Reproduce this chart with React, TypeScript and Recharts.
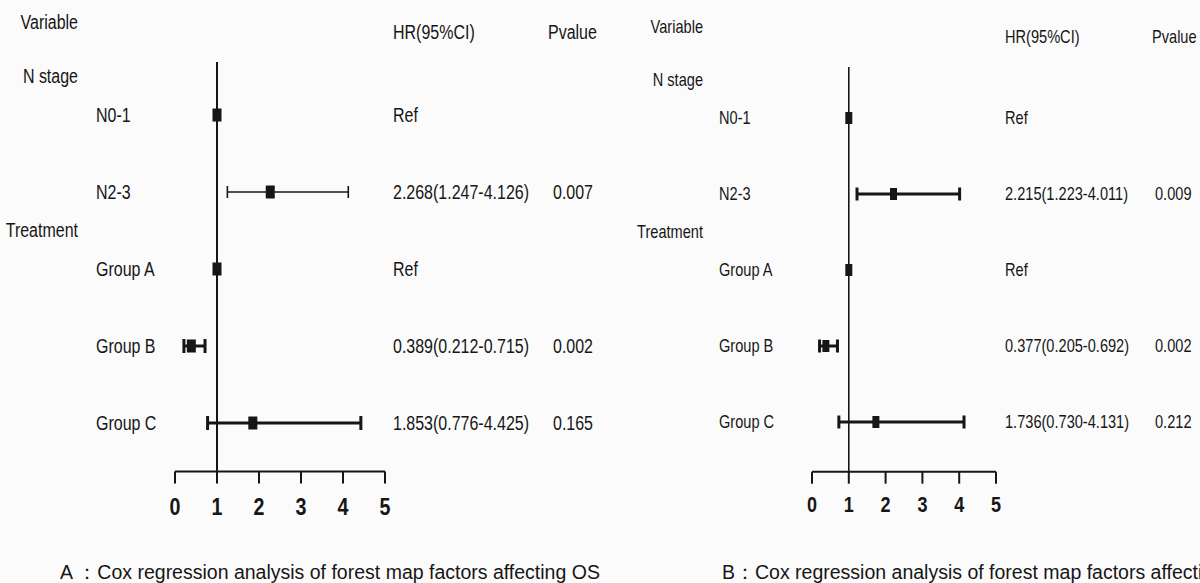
import React from 'react';
import { ScatterChart, Scatter, XAxis, YAxis, ErrorBar, ReferenceLine } from 'recharts';

// ---------- data ----------
const categories = ['N0-1', 'N2-3', 'Group A', 'Group B', 'Group C'];
const groupHeaders = ['N stage', 'Treatment'];
const groupStartIndex = [0, 2];
const xTicks = [0, 1, 2, 3, 4, 5];

const hrA = [1, 2.268, 1, 0.389, 1.853];
const lowA: (number | null)[] = [null, 1.247, null, 0.212, 0.776];
const highA: (number | null)[] = [null, 4.126, null, 0.715, 4.425];
const pA = ['', '0.007', '', '0.002', '0.165'];

const hrB = [1, 2.215, 1, 0.377, 1.736];
const lowB: (number | null)[] = [null, 1.223, null, 0.205, 0.73];
const highB: (number | null)[] = [null, 4.011, null, 0.692, 4.131];
const pB = ['', '0.009', '', '0.002', '0.212'];

const captionA = 'A ：Cox regression analysis of forest map factors affecting OS';
const captionB = 'B：Cox regression analysis of forest map factors affecting PFS';

// ---------- styling ----------
const SANS = '"Liberation Sans", Arial, sans-serif';
const INK = '#161616';
const NARROW_SCALE = 0.82;

type Row = { name: string; pos: number; hr: number; err?: number[]; hrText: string; p: string };

function buildRows(hr: number[], low: (number | null)[], high: (number | null)[], p: string[]): Row[] {
  return categories.map((name, i) => {
    const lo = low[i];
    const hi = high[i];
    const has = lo != null && hi != null;
    return {
      name,
      pos: i + 1,
      hr: hr[i],
      err: has ? [hr[i] - (lo as number), (hi as number) - hr[i]] : undefined,
      hrText: has ? `${hr[i].toFixed(3)}(${(lo as number).toFixed(3)}-${(hi as number).toFixed(3)})` : 'Ref',
      p: p[i],
    };
  });
}

function NarrowText({
  x,
  y,
  anchor,
  size,
  bold,
  dy,
  children,
}: {
  x: number;
  y: number;
  anchor: 'start' | 'middle' | 'end';
  size: number;
  bold?: boolean;
  dy: string;
  children: React.ReactNode;
}) {
  return (
    <g transform={`translate(${x},${y}) scale(${NARROW_SCALE},1)`}>
      <text
        x={0}
        y={0}
        dy={dy}
        textAnchor={anchor}
        style={{ fontFamily: SANS, fontSize: size, fontWeight: bold ? 700 : 400, fill: INK }}
      >
        {children}
      </text>
    </g>
  );
}

type Cfg = {
  width: number;
  height: number;
  plotLeft: number;
  plotRight: number;
  firstRowY: number;
  rowStep: number;
  axisY: number;
  refTopY: number;
  fontSize: number;
  tickFont: number;
  tickMargin: number;
  squareW: number;
  squareH: number;
  thinRows: string[];
  thinWidth: number;
  thickWidth: number;
  thinCap: number;
  thickCap: number;
  refWidth: number;
  rowLabelDx: number;
  headerDx: number;
  hrDx: number;
  pDx: number;
  pHeaderDx: number;
  variablePos: number;
  colHeaderPos: number;
};

function ForestPanel({ rows, cfg }: { rows: Row[]; cfg: Cfg }) {
  const plotTop = 0;
  const domainMin = 1 - (cfg.firstRowY - plotTop) / cfg.rowStep;
  const domainMax = 1 + (cfg.axisY - cfg.firstRowY) / cfg.rowStep;
  const refTop = 1 - (cfg.firstRowY - cfg.refTopY) / cfg.rowStep;

  const groupPos = groupStartIndex.map((i) => i + 1 - 0.5);
  const leftTicks = [cfg.variablePos, ...groupPos, ...rows.map((r) => r.pos)].sort((a, b) => a - b);
  const rightTicks = [cfg.colHeaderPos, ...rows.map((r) => r.pos)];

  const thinData = rows.filter((r) => cfg.thinRows.includes(r.name));
  const thickData = rows.filter((r) => !cfg.thinRows.includes(r.name));

  const fs = cfg.fontSize;

  const LeftTick = (props: any) => {
    const { x, y, payload } = props;
    const v = payload.value;
    const row = rows.find((r) => Math.abs(r.pos - v) < 1e-6);
    if (row) {
      return (
        <NarrowText x={x + cfg.rowLabelDx} y={y} dy="0.35em" anchor="start" size={fs}>
          {row.name}
        </NarrowText>
      );
    }
    if (Math.abs(v - cfg.variablePos) < 1e-6) {
      return (
        <NarrowText x={x + cfg.headerDx} y={y} dy="0.35em" anchor="end" size={fs}>
          Variable
        </NarrowText>
      );
    }
    const gi = groupPos.findIndex((g) => Math.abs(g - v) < 1e-6);
    if (gi >= 0) {
      return (
        <NarrowText x={x + cfg.headerDx} y={y} dy="0.35em" anchor="end" size={fs}>
          {groupHeaders[gi]}
        </NarrowText>
      );
    }
    return <g />;
  };

  const RightTick = (props: any) => {
    const { x, y, payload } = props;
    const v = payload.value;
    const row = rows.find((r) => Math.abs(r.pos - v) < 1e-6);
    if (row) {
      return (
        <g>
          <NarrowText x={x + cfg.hrDx} y={y} dy="0.35em" anchor="start" size={fs}>
            {row.hrText}
          </NarrowText>
          {row.p ? (
            <NarrowText x={x + cfg.pDx} y={y} dy="0.35em" anchor="start" size={fs}>
              {row.p}
            </NarrowText>
          ) : null}
        </g>
      );
    }
    return (
      <g>
        <NarrowText x={x + cfg.hrDx} y={y} dy="0.35em" anchor="start" size={fs}>
          HR(95%CI)
        </NarrowText>
        <NarrowText x={x + cfg.pHeaderDx} y={y} dy="0.35em" anchor="start" size={fs}>
          Pvalue
        </NarrowText>
      </g>
    );
  };

  const XTick = (props: any) => {
    const { x, y, payload } = props;
    return (
      <NarrowText x={x} y={y} dy="0.71em" anchor="middle" size={cfg.tickFont} bold>
        {payload.value}
      </NarrowText>
    );
  };

  const squareShape = (props: any) => {
    const { cx, cy } = props;
    return (
      <rect
        x={cx - cfg.squareW / 2}
        y={cy - cfg.squareH / 2}
        width={cfg.squareW}
        height={cfg.squareH}
        fill={INK}
      />
    );
  };

  return (
    <ScatterChart
      width={cfg.width}
      height={cfg.height}
      margin={{ top: plotTop, right: 0, bottom: 0, left: 0 }}
    >
      <XAxis
        type="number"
        dataKey="hr"
        domain={[0, 5]}
        ticks={xTicks}
        interval={0}
        allowDataOverflow
        height={cfg.height - cfg.axisY}
        axisLine={{ stroke: INK, strokeWidth: 2 }}
        tickLine={{ stroke: INK, strokeWidth: 2 }}
        tickSize={12}
        tickMargin={cfg.tickMargin}
        tick={XTick}
      />
      <YAxis
        yAxisId="left"
        type="number"
        dataKey="pos"
        domain={[domainMin, domainMax]}
        allowDataOverflow
        reversed
        ticks={leftTicks}
        interval={0}
        width={cfg.plotLeft}
        axisLine={false}
        tickLine={false}
        tickSize={0}
        tickMargin={0}
        tick={LeftTick}
      />
      <YAxis
        yAxisId="right"
        orientation="right"
        type="number"
        domain={[domainMin, domainMax]}
        allowDataOverflow
        reversed
        ticks={rightTicks}
        interval={0}
        width={cfg.width - cfg.plotRight}
        axisLine={false}
        tickLine={false}
        tickSize={0}
        tickMargin={0}
        tick={RightTick}
      />
      <ReferenceLine
        yAxisId="left"
        segment={[
          { x: 1, y: refTop },
          { x: 1, y: domainMax },
        ]}
        stroke={INK}
        strokeWidth={cfg.refWidth}
      />
      <Scatter yAxisId="left" data={thickData} shape={squareShape} isAnimationActive={false}>
        <ErrorBar
          dataKey="err"
          direction="x"
          width={cfg.thickCap}
          stroke={INK}
          strokeWidth={cfg.thickWidth}
          isAnimationActive={false}
        />
      </Scatter>
      <Scatter yAxisId="left" data={thinData} shape={squareShape} isAnimationActive={false}>
        <ErrorBar
          dataKey="err"
          direction="x"
          width={cfg.thinCap}
          stroke={INK}
          strokeWidth={cfg.thinWidth}
          isAnimationActive={false}
        />
      </Scatter>
    </ScatterChart>
  );
}

const cfgA: Cfg = {
  width: 600,
  height: 583,
  plotLeft: 175,
  plotRight: 385,
  firstRowY: 115,
  rowStep: 77,
  axisY: 471.5,
  refTopY: 62,
  fontSize: 19.5,
  tickFont: 24,
  tickMargin: 14,
  squareW: 9,
  squareH: 13,
  thinRows: ['N2-3'],
  thinWidth: 1.6,
  thickWidth: 3,
  thinCap: 6,
  thickCap: 7,
  refWidth: 2,
  rowLabelDx: -79,
  headerDx: -97,
  hrDx: 8,
  pDx: 168,
  pHeaderDx: 163,
  variablePos: -0.2,
  colHeaderPos: -0.08,
};

const cfgB: Cfg = {
  width: 600,
  height: 583,
  plotLeft: 212,
  plotRight: 396,
  firstRowY: 118,
  rowStep: 76,
  axisY: 471.7,
  refTopY: 67,
  fontSize: 17.8,
  tickFont: 22,
  tickMargin: 13,
  squareW: 7,
  squareH: 12,
  thinRows: [],
  thinWidth: 1.6,
  thickWidth: 3,
  thinCap: 6.5,
  thickCap: 6.5,
  refWidth: 1.6,
  rowLabelDx: -93,
  headerDx: -109,
  hrDx: 9,
  pDx: 159,
  pHeaderDx: 156,
  variablePos: -0.2,
  colHeaderPos: -0.07,
};

const rowsA = buildRows(hrA, lowA, highA, pA);
const rowsB = buildRows(hrB, lowB, highB, pB);

export default function App() {
  return (
    <div
      style={{
        position: 'absolute',
        left: 0,
        top: 0,
        width: 1200,
        height: 583,
        overflow: 'hidden',
        background: '#fbfbfb',
      }}
    >
      <div style={{ position: 'absolute', left: 0, top: 0 }}>
        <ForestPanel rows={rowsA} cfg={cfgA} />
      </div>
      <div style={{ position: 'absolute', left: 600, top: 0 }}>
        <ForestPanel rows={rowsB} cfg={cfgB} />
      </div>
      <div
        style={{
          position: 'absolute',
          left: 60,
          top: 561,
          fontFamily: SANS,
          fontSize: 19.5,
          lineHeight: '22px',
          color: INK,
          whiteSpace: 'pre',
        }}
      >
        {captionA}
      </div>
      <div
        style={{
          position: 'absolute',
          left: 722,
          top: 561,
          fontFamily: SANS,
          fontSize: 19.5,
          lineHeight: '22px',
          color: INK,
          whiteSpace: 'pre',
        }}
      >
        {captionB}
      </div>
    </div>
  );
}
